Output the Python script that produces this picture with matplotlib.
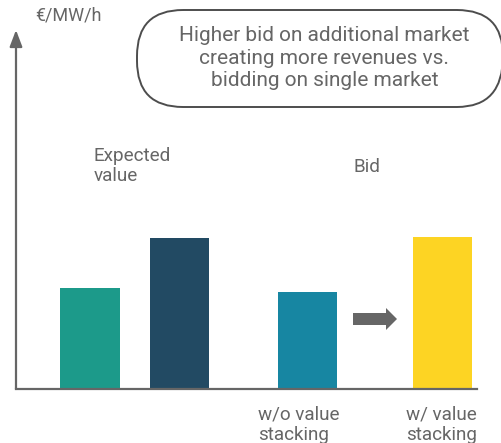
import matplotlib
matplotlib.use("Agg")
import matplotlib.pyplot as plt
from matplotlib.patches import FancyBboxPatch, FancyArrow

plt.rcParams['font.family'] = ['Roboto', 'DejaVu Sans']

# dane wykresu (wartosci w €/MW/h, skala umowna)
bar_names = ["Expected value A", "Expected value B", "w/o value stacking", "w/ value stacking"]
bar_values = [10.1, 15.1, 9.7, 15.2]
bar_colors = ["#1c9a8a", "#224a63", "#1786a2", "#fdd423"]
group_labels = ["Expected\nvalue", "Bid"]
tick_labels = ["w/o value\nstacking", "w/ value\nstacking"]
unit_label = "€/MW/h"
note_text = "Higher bid on additional market\ncreating more revenues vs.\nbidding on single market"

# uklad (pozycje w setkach pikseli od osi)
bar_pos = [0.74, 1.635, 2.915, 4.265]
bar_width = 0.595
txt_color = "#666666"

W, H = 502, 443
fig = plt.figure(figsize=(W / 100, H / 100), dpi=100)

# glowna os ze slupkami
ax = fig.add_axes([16 / W, (H - 389) / H, 461 / W, (389 - 30) / H])
ax.bar(bar_pos, bar_values, width=bar_width, color=bar_colors, zorder=2)
ax.set_xlim(0, 4.61)
ax.set_ylim(0, 35.9)
for s in ["top", "right", "left"]:
    ax.spines[s].set_visible(False)
ax.spines["bottom"].set_color("#666666")
ax.spines["bottom"].set_linewidth(1.6)
ax.set_xticks([])
ax.set_yticks([])
ax.patch.set_alpha(0)
# strzalka osi Y
ax.annotate("", xy=(0, 1.0), xycoords="axes fraction", xytext=(0, 0),
            arrowprops=dict(arrowstyle="-|>,head_length=1.0,head_width=0.38",
                            color="#666666", lw=1.6, shrinkA=0, shrinkB=0))

# nakladka w pikselach na teksty i ozdobniki
ov = fig.add_axes([0, 0, 1, 1])
ov.set_xlim(0, W)
ov.set_ylim(H, 0)
ov.axis("off")
ov.patch.set_alpha(0)

ov.text(35, 15, unit_label, fontsize=13, color=txt_color, va="center", ha="left")

ov.add_patch(FancyBboxPatch((137, 10), 366, 97,
                            boxstyle="round,pad=0,rounding_size=46",
                            fill=False, ec="#4d4d4d", lw=1.4))
ov.text(324.5, 58, note_text, fontsize=15, color=txt_color, ha="center", va="center",
        linespacing=1.26)

ov.text(94, 166, group_labels[0], fontsize=13.6, color=txt_color, ha="left", va="center",
        linespacing=1.15)
ov.text(354, 167.5, group_labels[1], fontsize=13.6, color=txt_color, ha="left", va="center")

ov.text(258, 425, tick_labels[0], fontsize=13.6, color=txt_color, ha="left", va="center",
        linespacing=1.15)
ov.text(406, 425, tick_labels[1], fontsize=13.6, color=txt_color, ha="left", va="center",
        linespacing=1.15)

# strzalka miedzy slupkami
ov.add_patch(FancyArrow(353, 319, 44, 0, width=12, head_width=22, head_length=11,
                        length_includes_head=True, color="#666666", lw=0))

fig.savefig("out.png", dpi=100)
